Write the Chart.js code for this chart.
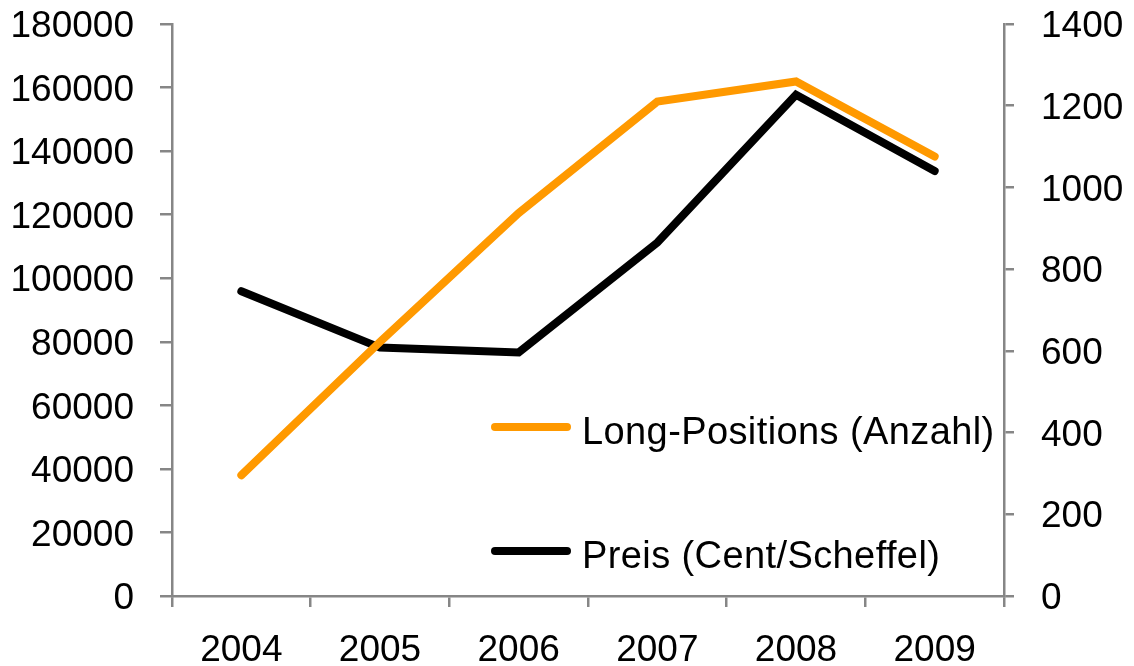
<!DOCTYPE html>
<html>
<head>
<meta charset="utf-8">
<script src="https://cdn.jsdelivr.net/npm/chart.js@4"></script>
<style>
  html, body { margin: 0; padding: 0; background: #fff; }
  #wrap { width: 1134px; height: 666px; }
</style>
</head>
<body>
<div id="wrap"><canvas id="chart" width="1134" height="666"></canvas></div>
<script>
const years = ['2004', '2005', '2006', '2007', '2008', '2009'];
const longPositions = [38000, 80000, 120500, 155600, 161900, 138300];
const preis = [746, 608, 596, 865, 1227, 1040];
const leftTicks = [0, 20000, 40000, 60000, 80000, 100000, 120000, 140000, 160000, 180000];
const rightTicks = [0, 200, 400, 600, 800, 1000, 1200, 1400];

const FONT = 'Liberation Sans, Arial, sans-serif';
const AXIS = '#868686';

// legend drawn inside the plot area, lower right
const innerLegend = {
  id: 'innerLegend',
  afterDraw(chart) {
    const ctx = chart.ctx;
    const a = chart.chartArea;
    const rows = [403, 527];
    ctx.save();
    chart.data.datasets.forEach((ds, i) => {
      const y = a.top + rows[i];
      const x0 = a.left + 323;
      ctx.strokeStyle = ds.borderColor;
      ctx.lineWidth = 8;
      ctx.lineCap = 'round';
      ctx.beginPath();
      ctx.moveTo(x0, y);
      ctx.lineTo(x0 + 72, y);
      ctx.stroke();
      ctx.fillStyle = '#000';
      ctx.font = '38px ' + FONT;
      ctx.letterSpacing = '0.4px';
      ctx.textBaseline = 'middle';
      ctx.textAlign = 'left';
      ctx.fillText(ds.label, x0 + 87, y + 7);
    });
    ctx.restore();
  }
};

function noPad(s) {
  s.paddingTop = 0;
  s.paddingBottom = 0;
}

new Chart(document.getElementById('chart'), {
  type: 'line',
  data: {
    labels: years,
    datasets: [
      {
        label: 'Long-Positions (Anzahl)',
        data: longPositions,
        yAxisID: 'y',
        borderColor: '#FF9900',
        borderWidth: 8,
        borderCapStyle: 'round',
        borderJoinStyle: 'miter',
        pointRadius: 0,
        tension: 0,
        fill: false
      },
      {
        label: 'Preis (Cent/Scheffel)',
        data: preis,
        yAxisID: 'y1',
        borderColor: '#000000',
        borderWidth: 8,
        borderCapStyle: 'round',
        borderJoinStyle: 'miter',
        pointRadius: 0,
        tension: 0,
        fill: false
      }
    ]
  },
  options: {
    responsive: false,
    animation: false,
    layout: { padding: { top: 24, left: 0, right: 0, bottom: 0 } },
    scales: {
      x: {
        offset: true,
        grid: { offset: true, drawOnChartArea: false, color: AXIS, lineWidth: 2.5, tickLength: 11 },
        border: { color: AXIS, width: 2.5 },
        ticks: { color: '#000', font: { family: FONT, size: 37 }, padding: 22, maxRotation: 0 },
        afterFit(s) { s.height = 70; }
      },
      y: {
        position: 'left',
        min: 0,
        max: 180000,
        afterBuildTicks(s) { s.ticks = leftTicks.map(v => ({ value: v })); },
        grid: { drawOnChartArea: false, color: AXIS, lineWidth: 2.5, tickLength: 12 },
        border: { color: AXIS, width: 2.5 },
        ticks: { color: '#000', font: { family: FONT, size: 37 }, padding: 26, labelOffset: 3, callback: v => String(v) },
        afterFit(s) { s.width = 172; noPad(s); }
      },
      y1: {
        position: 'right',
        min: 0,
        max: 1400,
        afterBuildTicks(s) { s.ticks = rightTicks.map(v => ({ value: v })); },
        grid: { drawOnChartArea: false, color: AXIS, lineWidth: 2.5, tickLength: 10 },
        border: { color: AXIS, width: 2.5 },
        ticks: { color: '#000', font: { family: FONT, size: 37 }, padding: 27, labelOffset: 3, callback: v => String(v) },
        afterFit(s) { s.width = 130; noPad(s); }
      }
    },
    plugins: {
      legend: { display: false },
      tooltip: { enabled: false }
    }
  },
  plugins: [innerLegend]
});
</script>
</body>
</html>
